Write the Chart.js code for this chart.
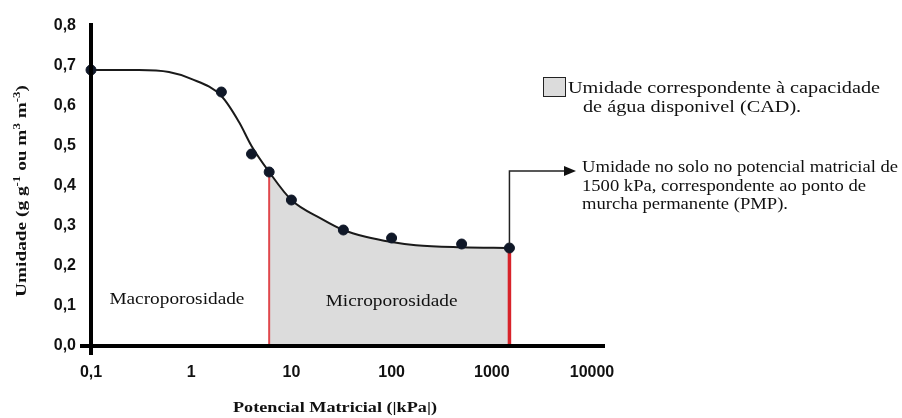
<!DOCTYPE html>
<html>
<head>
<meta charset="utf-8">
<script src="https://cdn.jsdelivr.net/npm/chart.js@4.4.1/dist/chart.umd.min.js"></script>
<style>
  html, body { margin: 0; padding: 0; background: #fff; }
  #wrap { width: 902px; height: 418px; position: relative; }
</style>
</head>
<body>
<div id="wrap"><canvas id="grafico"></canvas></div>
<script>
// Dados (eixo x em escala log)
const xTicks = [0.1, 1, 10, 100, 1000, 10000];
const pontosX = [0.1, 2, 4, 6, 10, 33, 100, 500, 1500];
const pontosY = [0.69, 0.635, 0.48, 0.435, 0.365, 0.29, 0.27, 0.255, 0.245];
// curva ajustada (lida ponto a ponto)
const curvaX = [0.1, 0.3, 0.6, 1, 2, 3, 4, 6, 10, 20, 33, 55, 100, 175, 500, 1500];
const curvaY = [0.69, 0.69, 0.685, 0.668, 0.625, 0.56, 0.5, 0.435, 0.365, 0.318, 0.29, 0.273, 0.26, 0.252, 0.247, 0.245];
const cadInicio = 6;   // limite macro / micro
const pmp = 1500;      // ponto de murcha permanente

const serif = '"Liberation Serif", "Times New Roman", serif';
const sans = '"Liberation Sans", Arial, sans-serif';

const curva = curvaX.map((x, i) => ({ x: x, y: curvaY[i] }));
const areaCAD = curva.filter(p => p.x >= cadInicio && p.x <= pmp);
const yInicio = curvaY[curvaX.indexOf(cadInicio)];
const yPmp = curvaY[curvaX.indexOf(pmp)];

// texto com esticamento horizontal (a figura original está alargada)
function texto(ctx, s, x, y, font, sx, align) {
  ctx.save();
  ctx.font = font;
  ctx.translate(x, y);
  ctx.scale(sx, 1);
  ctx.textAlign = align || 'left';
  ctx.textBaseline = 'middle';
  ctx.fillStyle = '#111';
  ctx.fillText(s, 0, 0);
  ctx.restore();
}
function fator(ctx, s, font, largura) {
  ctx.font = font;
  return largura / ctx.measureText(s).width;
}

const extras = {
  id: 'extras',
  afterDatasetsDraw(chart) {
    const ctx = chart.ctx;
    const a = chart.chartArea;
    ctx.save();
    // eixos
    ctx.strokeStyle = '#000';
    ctx.lineWidth = 4;
    ctx.beginPath();
    ctx.moveTo(a.left - 11, a.bottom);
    ctx.lineTo(a.right + 13, a.bottom);
    ctx.moveTo(a.left, a.top - 3);
    ctx.lineTo(a.left, a.bottom + 9);
    ctx.stroke();
    ctx.restore();
  },
  afterDraw(chart) {
    const ctx = chart.ctx;
    const xs = chart.scales.x, ys = chart.scales.y;
    const f = '16px ' + serif;

    // rótulos das regiões
    let k = fator(ctx, 'Macroporosidade', f, 135);
    texto(ctx, 'Macroporosidade', xs.getPixelForValue(0.72), ys.getPixelForValue(0.115), f, k, 'center');
    texto(ctx, 'Microporosidade', xs.getPixelForValue(100), ys.getPixelForValue(0.11), f, k, 'center');

    // legenda CAD
    ctx.save();
    ctx.fillStyle = '#dcdcdc';
    ctx.fillRect(543, 77, 23, 20);
    ctx.strokeStyle = '#222';
    ctx.lineWidth = 1;
    ctx.strokeRect(543.5, 77.5, 22, 19);
    ctx.restore();
    k = fator(ctx, 'Umidade correspondente à capacidade', f, 312);
    texto(ctx, 'Umidade correspondente à capacidade', 568, 89, f, k);
    texto(ctx, 'de água disponivel (CAD).', 583, 108, f, k);

    // seta do PMP
    const px = xs.getPixelForValue(pmp);
    const py = ys.getPixelForValue(yPmp);
    ctx.save();
    ctx.strokeStyle = '#222';
    ctx.lineWidth = 1.5;
    ctx.beginPath();
    ctx.moveTo(px, py - 4);
    ctx.lineTo(px, 171);
    ctx.lineTo(566, 171);
    ctx.stroke();
    ctx.fillStyle = '#111';
    ctx.beginPath();
    ctx.moveTo(576, 171);
    ctx.lineTo(564, 166);
    ctx.lineTo(564, 176);
    ctx.closePath();
    ctx.fill();
    ctx.restore();
    k = fator(ctx, 'Umidade no solo no potencial matricial de', f, 316);
    texto(ctx, 'Umidade no solo no potencial matricial de', 582, 168, f, k);
    texto(ctx, '1500 kPa, correspondente ao ponto de', 582, 187, f, k);
    texto(ctx, 'murcha permanente (PMP).', 582, 205, f, k);

    // título do eixo x
    const fb = 'bold 15px ' + serif;
    k = fator(ctx, 'Potencial Matricial (|kPa|)', fb, 204);
    texto(ctx, 'Potencial Matricial (|kPa|)', 335, 408, fb, k, 'center');

    // título do eixo y com sobrescritos
    const partes = [
      ['Umidade (g g', false], ['-1', true], [' ou m', false], ['3', true],
      [' m', false], ['-3', true], [')', false]
    ];
    const fsup = 'bold 10px ' + serif;
    let total = 0;
    partes.forEach(p => { ctx.font = p[1] ? fsup : fb; total += ctx.measureText(p[0]).width; });
    const escala = 212 / total;
    ctx.save();
    ctx.translate(22, 191);
    ctx.rotate(-Math.PI / 2);
    ctx.scale(escala, 1);
    ctx.fillStyle = '#111';
    ctx.textBaseline = 'middle';
    let cx = -total / 2;
    partes.forEach(p => {
      ctx.font = p[1] ? fsup : fb;
      ctx.fillText(p[0], cx, p[1] ? -5 : 0);
      cx += ctx.measureText(p[0]).width;
    });
    ctx.restore();
  }
};

new Chart(document.getElementById('grafico'), {
  type: 'scatter',
  data: {
    datasets: [
      {
        label: 'pontos',
        data: pontosX.map((x, i) => ({ x: x, y: pontosY[i] })),
        backgroundColor: '#101828',
        borderColor: '#101828',
        pointRadius: 5,
        clip: false,
        order: 1
      },
      {
        label: 'curva',
        type: 'line',
        data: curva,
        borderColor: '#1a1a1a',
        borderWidth: 2,
        pointRadius: 0,
        cubicInterpolationMode: 'monotone',
        fill: false,
        clip: false,
        order: 2
      },
      {
        label: 'limite',
        type: 'line',
        data: [{ x: cadInicio, y: 0 }, { x: cadInicio, y: yInicio }],
        borderColor: '#e0474c',
        borderWidth: 2,
        pointRadius: 0,
        order: 3
      },
      {
        label: 'pmp',
        type: 'line',
        data: [{ x: pmp, y: 0 }, { x: pmp, y: yPmp }],
        borderColor: '#d8232a',
        borderWidth: 3.5,
        pointRadius: 0,
        order: 3
      },
      {
        label: 'CAD',
        type: 'line',
        data: areaCAD,
        borderWidth: 0,
        borderColor: 'rgba(0,0,0,0)',
        backgroundColor: '#dcdcdc',
        pointRadius: 0,
        cubicInterpolationMode: 'monotone',
        fill: 'origin',
        order: 5
      }
    ]
  },
  options: {
    responsive: true,
    maintainAspectRatio: false,
    animation: false,
    layout: { padding: { left: 0, right: 310, top: 26, bottom: 0 } },
    plugins: { legend: { display: false }, tooltip: { enabled: false } },
    scales: {
      x: {
        type: 'logarithmic',
        min: 0.1,
        max: 10000,
        afterBuildTicks: s => { s.ticks = xTicks.map(v => ({ value: v })); },
        afterFit: s => { s.height = 72; },
        grid: { display: false, drawTicks: false },
        border: { display: false },
        ticks: {
          padding: 17,
          maxRotation: 0,
          autoSkip: false,
          color: '#111',
          font: { family: sans, size: 16, weight: 'bold' },
          callback: v => String(v).replace('.', ',')
        }
      },
      y: {
        min: 0,
        max: 0.8,
        afterFit: s => { s.width = 91; },
        grid: { display: false, drawTicks: false },
        border: { display: false },
        ticks: {
          stepSize: 0.1,
          padding: 15,
          color: '#111',
          font: { family: sans, size: 16, weight: 'bold' },
          callback: v => v.toFixed(1).replace('.', ',')
        }
      }
    }
  },
  plugins: [extras]
});
</script>
</body>
</html>
